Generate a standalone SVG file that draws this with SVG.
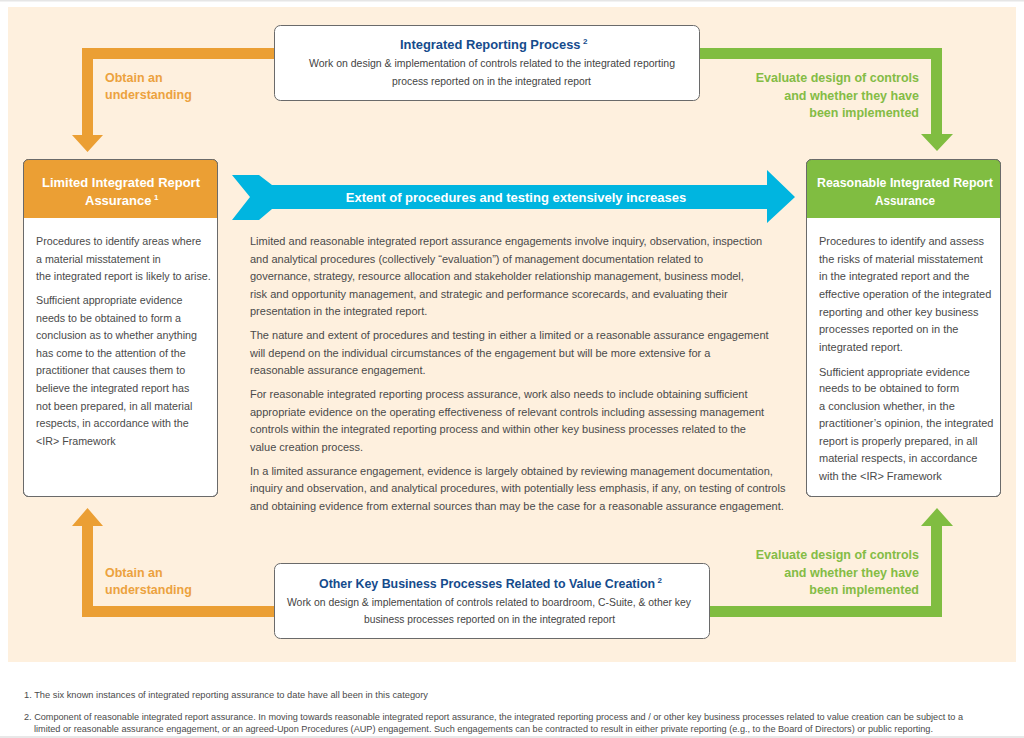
<svg xmlns="http://www.w3.org/2000/svg" width="1024" height="738" viewBox="0 0 1024 738">
<style>
text { font-family: "Liberation Sans", Arial, sans-serif; }
.body { font-size: 11px; fill: #4a4a4a; }
.bodyL { font-size: 10.7px; fill: #4a4a4a; }
.hdr { font-size: 13px; font-weight: bold; fill: #ffffff; }
.ttl { font-weight: bold; fill: #154b8c; }
.sup { font-size: 8px; }
.sub { font-size: 11.5px; fill: #444444; }
.lblO { font-size: 12.5px; font-weight: bold; fill: #eca23e; }
.lblG { font-size: 12.5px; font-weight: bold; fill: #84bc45; text-anchor: end; }
.arrO { fill: #eb9f34; }
.arrG { fill: #80bd41; }
.arrB { fill: #00b5e0; }
.box { fill: #ffffff; stroke: #6a6a6a; stroke-width: 1; }
.frame { fill: none; stroke: #6a6a6a; stroke-width: 1; }
.foot { font-size: 8.7px; fill: #4a4a4a; }
</style>

<rect x="0" y="0" width="1024" height="738" fill="#ffffff"/>
<rect x="0" y="0" width="1024" height="1.5" fill="#e6e6e6"/>
<rect x="0" y="736" width="1024" height="2" fill="#e8e8e8"/>
<rect x="8" y="7" width="1008" height="655" fill="#fef0de"/>

<g id="connectors">
  <path class="arrO" d="M280,48 H82 V135 H72 L87.5,152 L103,135 H93 V59 H280 Z"/>
  <path class="arrG" d="M694,48 H942 V134 H953 L937,151 L921,134 H931 V59 H694 Z"/>
  <path class="arrO" d="M280,617 H82 V526 H72 L87.5,508 L103,526 H93 V606 H280 Z"/>
  <path class="arrG" d="M704,617 H942 V526 H953 L937,508 L921,526 H931 V606 H704 Z"/>
  <path class="arrB" d="M232,175 H259 L272,185 H767 V170 L795,197 L767,223 V209 H272 L259,220 H232 L250,197 Z"/>
  <text class="hdr" x="516" y="201.5" text-anchor="middle">Extent of procedures and testing extensively increases</text>
</g>

<g id="connector-labels">
  <text class="lblO" x="105" y="81.5">Obtain an</text>
  <text class="lblO" x="105" y="99">understanding</text>
  <text class="lblG" x="919" y="82">Evaluate design of controls</text>
  <text class="lblG" x="919" y="99.5">and whether they have</text>
  <text class="lblG" x="919" y="117">been implemented</text>
  <text class="lblO" x="105" y="576.5">Obtain an</text>
  <text class="lblO" x="105" y="594">understanding</text>
  <text class="lblG" x="919" y="559">Evaluate design of controls</text>
  <text class="lblG" x="919" y="576.5">and whether they have</text>
  <text class="lblG" x="919" y="594">been implemented</text>
</g>

<g id="integrated-reporting-process">
  <rect class="box" x="274.5" y="25.5" width="425" height="75" rx="6"/>
  <text class="ttl" x="400" y="49" font-size="12.9">Integrated Reporting Process<tspan class="sup" dx="2.5" dy="-5">2</tspan></text>
  <text class="sub" x="309" y="66.7" textLength="366" lengthAdjust="spacingAndGlyphs">Work on design &amp; implementation of controls related to the integrated reporting</text>
  <text class="sub" x="392" y="85" textLength="199" lengthAdjust="spacingAndGlyphs">process reported on in the integrated report</text>
</g>

<g id="other-key-business-processes">
  <rect class="box" x="274.5" y="563.5" width="435" height="75" rx="6"/>
  <text class="ttl" x="319" y="588" font-size="12.4">Other Key Business Processes Related to Value Creation<tspan class="sup" dx="2.5" dy="-5">2</tspan></text>
  <text class="sub" x="287" y="605.7" textLength="404" lengthAdjust="spacingAndGlyphs">Work on design &amp; implementation of controls related to boardroom, C-Suite, &amp; other key</text>
  <text class="sub" x="364" y="623.3" textLength="251" lengthAdjust="spacingAndGlyphs">business processes reported on in the integrated report</text>
</g>

<g id="limited-assurance">
  <rect class="box" x="23.5" y="159.5" width="194" height="337" rx="5"/>
  <path class="arrO" d="M23.5,218 V164.5 A5,5 0 0 1 28.5,159.5 H212.5 A5,5 0 0 1 217.5,164.5 V218 Z"/>
  <rect class="frame" x="23.5" y="159.5" width="194" height="337" rx="5"/>
  <text class="hdr" x="42" y="187" textLength="158" lengthAdjust="spacingAndGlyphs">Limited Integrated Report</text>
  <text class="hdr" x="85" y="204.5">Assurance<tspan class="sup" dx="2.5" dy="-5">1</tspan></text>
  <text class="bodyL">
    <tspan x="36" y="245">Procedures to identify areas where</tspan>
    <tspan x="36" y="262.6">a material misstatement in</tspan>
    <tspan x="36" y="280.2">the integrated report is likely to arise.</tspan>
    <tspan x="36" y="304">Sufficient appropriate evidence</tspan>
    <tspan x="36" y="321.6">needs to be obtained to form a</tspan>
    <tspan x="36" y="339.2">conclusion as to whether anything</tspan>
    <tspan x="36" y="356.8">has come to the attention of the</tspan>
    <tspan x="36" y="374.4">practitioner that causes them to</tspan>
    <tspan x="36" y="392">believe the integrated report has</tspan>
    <tspan x="36" y="409.6">not been prepared, in all material</tspan>
    <tspan x="36" y="427.2">respects, in accordance with the</tspan>
    <tspan x="36" y="444.8">&lt;IR&gt; Framework</tspan>
  </text>
</g>

<g id="reasonable-assurance">
  <rect class="box" x="806.5" y="159.5" width="194" height="337" rx="5"/>
  <path class="arrG" d="M806.5,218 V164.5 A5,5 0 0 1 811.5,159.5 H995.5 A5,5 0 0 1 1000.5,164.5 V218 Z"/>
  <rect class="frame" x="806.5" y="159.5" width="194" height="337" rx="5"/>
  <text class="hdr" x="817" y="187" textLength="176" lengthAdjust="spacingAndGlyphs">Reasonable Integrated Report</text>
  <text class="hdr" x="875" y="204.5" textLength="60" lengthAdjust="spacingAndGlyphs">Assurance</text>
  <text class="body">
    <tspan x="819" y="245">Procedures to identify and assess</tspan>
    <tspan x="819" y="262.5">the risks of material misstatement</tspan>
    <tspan x="819" y="280">in the integrated report and the</tspan>
    <tspan x="819" y="297.8">effective operation of the integrated</tspan>
    <tspan x="819" y="315.5">reporting and other key business</tspan>
    <tspan x="819" y="333.2">processes reported on in the</tspan>
    <tspan x="819" y="351">integrated report.</tspan>
    <tspan x="819" y="375.7">Sufficient appropriate evidence</tspan>
    <tspan x="819" y="392.3">needs to be obtained to form</tspan>
    <tspan x="819" y="409.7">a conclusion whether, in the</tspan>
    <tspan x="819" y="427.3">practitioner’s opinion, the integrated</tspan>
    <tspan x="819" y="444.7">report is properly prepared, in all</tspan>
    <tspan x="819" y="462.3">material respects, in accordance</tspan>
    <tspan x="819" y="480">with the &lt;IR&gt; Framework</tspan>
  </text>
</g>

<g id="center-description">
  <text class="body">
    <tspan x="250" y="245">Limited and reasonable integrated report assurance engagements involve inquiry, observation, inspection</tspan>
    <tspan x="250" y="262.5">and analytical procedures (collectively “evaluation”) of management documentation related to</tspan>
    <tspan x="250" y="280">governance, strategy, resource allocation and stakeholder relationship management, business model,</tspan>
    <tspan x="250" y="297.5">risk and opportunity management, and strategic and performance scorecards, and evaluating their</tspan>
    <tspan x="250" y="315">presentation in the integrated report.</tspan>
    <tspan x="250" y="339">The nature and extent of procedures and testing in either a limited or a reasonable assurance engagement</tspan>
    <tspan x="250" y="356.5">will depend on the individual circumstances of the engagement but will be more extensive for a</tspan>
    <tspan x="250" y="374">reasonable assurance engagement.</tspan>
    <tspan x="250" y="398">For reasonable integrated reporting process assurance, work also needs to include obtaining sufficient</tspan>
    <tspan x="250" y="415.5">appropriate evidence on the operating effectiveness of relevant controls including assessing management</tspan>
    <tspan x="250" y="433">controls within the integrated reporting process and within other key business processes related to the</tspan>
    <tspan x="250" y="450.5">value creation process.</tspan>
    <tspan x="250" y="474.5">In a limited assurance engagement, evidence is largely obtained by reviewing management documentation,</tspan>
    <tspan x="250" y="492">inquiry and observation, and analytical procedures, with potentially less emphasis, if any, on testing of controls</tspan>
    <tspan x="250" y="509.5">and obtaining evidence from external sources than may be the case for a reasonable assurance engagement.</tspan>
  </text>
</g>

<g id="footnotes">
  <text class="foot" x="24" y="698" textLength="404" lengthAdjust="spacingAndGlyphs">1. The six known instances of integrated reporting assurance to date have all been in this category</text>
  <text class="foot" x="24" y="719.5" textLength="939" lengthAdjust="spacingAndGlyphs">2. Component of reasonable integrated report assurance. In moving towards reasonable integrated report assurance, the integrated reporting process and / or other key business processes related to value creation can be subject to a</text>
  <text class="foot" x="34" y="731.5" textLength="899" lengthAdjust="spacingAndGlyphs">limited or reasonable assurance engagement, or an agreed-Upon Procedures (AUP) engagement. Such engagements can be contracted to result in either private reporting (e.g., to the Board of Directors) or public reporting.</text>
</g>
</svg>
